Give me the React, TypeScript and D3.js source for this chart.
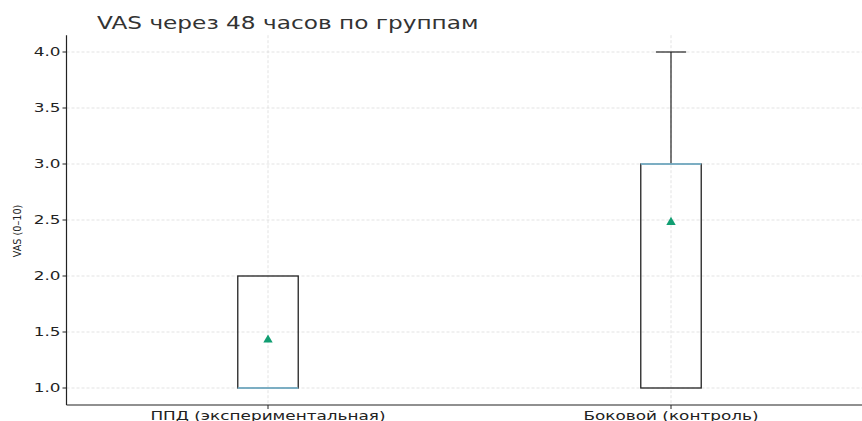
import React from "react";
import * as d3 from "d3";

const groups = ["ППД (экспериментальная)", "Боковой (контроль)"];
const q1 = [1.0, 1.0];
const medians = [1.0, 3.0];
const q3 = [2.0, 3.0];
const whiskerLow = [1.0, 1.0];
const whiskerHigh = [2.0, 4.0];
const means = [1.43, 2.48];
const yTicks = [1.0, 1.5, 2.0, 2.5, 3.0, 3.5, 4.0];

const W = 862, H = 421;
const font = "DejaVu Sans, sans-serif";
const SX = 1.37;

export default function App() {
  const x = d3.scaleLinear().domain([0.5, 2.5]).range([66.5, 872.5]);
  const y = d3.scaleLinear().domain([1.0, 4.0]).range([388, 52]);
  const yTop = y(4.15), yBot = y(0.848);
  const boxW = (x(2) - x(1)) * 0.15;
  const capW = boxW / 2;
  const tri = d3.symbol().type(d3.symbolTriangle).size(38);
  return (
    <svg width={W} height={H} style={{ position: "absolute", left: 0, top: 0, background: "#fff" }}>
      <text transform={`translate(97,29) scale(1.29,1)`} fontFamily={font} fontSize={18} fill="#333">VAS через 48 часов по группам</text>
      {/* grid */}
      {yTicks.map((t) => (
        <line key={"g" + t} x1={x(0.5)} x2={W} y1={y(t)} y2={y(t)} stroke="#dcdcdc" strokeWidth={0.8} strokeDasharray="3,2" />
      ))}
      {groups.map((g, i) => (
        <line key={"gv" + i} x1={x(i + 1)} x2={x(i + 1)} y1={yTop} y2={yBot} stroke="#dcdcdc" strokeWidth={0.8} strokeDasharray="3,2" />
      ))}
      {/* boxes */}
      {groups.map((g, i) => {
        const cx = x(i + 1);
        return (
          <g key={"b" + i}>
            {whiskerHigh[i] > q3[i] && (
              <>
                <line x1={cx} x2={cx} y1={y(q3[i])} y2={y(whiskerHigh[i])} stroke="#222" strokeWidth={1.2} />
                <line x1={cx - capW / 2} x2={cx + capW / 2} y1={y(whiskerHigh[i])} y2={y(whiskerHigh[i])} stroke="#222" strokeWidth={1.2} />
              </>
            )}
            {whiskerLow[i] < q1[i] && (
              <>
                <line x1={cx} x2={cx} y1={y(q1[i])} y2={y(whiskerLow[i])} stroke="#222" strokeWidth={1.2} />
                <line x1={cx - capW / 2} x2={cx + capW / 2} y1={y(whiskerLow[i])} y2={y(whiskerLow[i])} stroke="#222" strokeWidth={1.2} />
              </>
            )}
            <rect x={cx - boxW / 2} y={y(q3[i])} width={boxW} height={y(q1[i]) - y(q3[i])} fill="none" stroke="#222" strokeWidth={1.3} />
            <line x1={cx - boxW / 2} x2={cx + boxW / 2} y1={y(medians[i])} y2={y(medians[i])} stroke="#82c4e0" strokeWidth={1.6} />
            <path d={tri()!} transform={`translate(${cx},${y(means[i])})`} fill="#119e72" />
          </g>
        );
      })}
      {/* axes */}
      <line x1={x(0.5)} x2={x(0.5)} y1={yTop} y2={yBot} stroke="#222" strokeWidth={1.2} />
      <line x1={x(0.5)} x2={W} y1={yBot} y2={yBot} stroke="#222" strokeWidth={1.2} />
      {yTicks.map((t) => (
        <g key={"t" + t}>
          <line x1={x(0.5) - 4} x2={x(0.5)} y1={y(t)} y2={y(t)} stroke="#222" strokeWidth={1} />
          <text transform={`translate(${x(0.5) - 6},${y(t)}) scale(${SX},1)`} dy="0.36em" textAnchor="end" fontFamily={font} fontSize={12.3} fill="#222">{t.toFixed(1)}</text>
        </g>
      ))}
      {groups.map((g, i) => (
        <g key={"xt" + i}>
          <line x1={x(i + 1)} x2={x(i + 1)} y1={yBot} y2={yBot + 4} stroke="#222" strokeWidth={1} />
          <text transform={`translate(${x(i + 1)},${yBot + 14.5}) scale(${SX},1)`} textAnchor="middle" fontFamily={font} fontSize={12.3} fill="#222">{g}</text>
        </g>
      ))}
      <text transform={`translate(21,231) scale(1.15,1) rotate(-90)`} textAnchor="middle" fontFamily={font} fontSize={9.7} fill="#222">VAS (0–10)</text>
    </svg>
  );
}
